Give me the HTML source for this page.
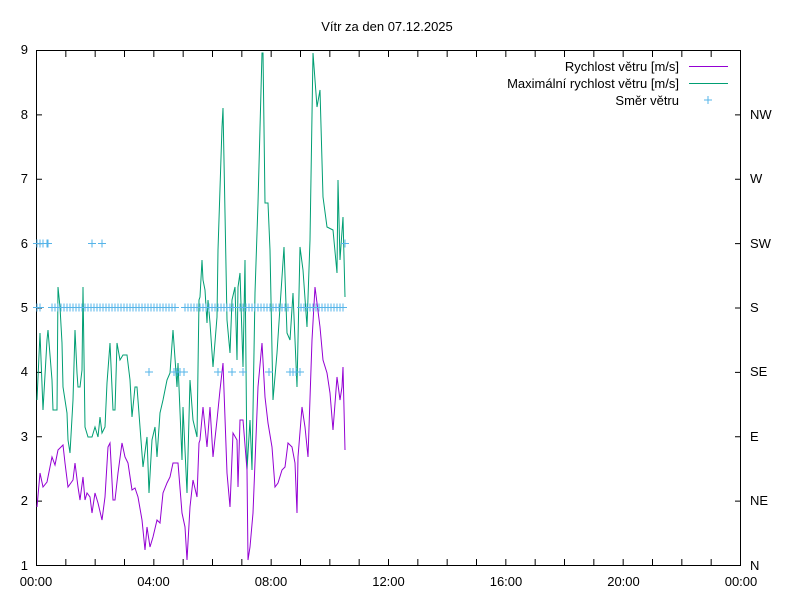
<!DOCTYPE html>
<html><head><meta charset="utf-8"><style>
body{margin:0;background:#fff;overflow:hidden}
svg{display:block;font-family:"Liberation Sans",sans-serif;font-size:13px}
</style></head><body>
<svg id="s" width="800" height="600" viewBox="0 0 800 600">
<rect width="800" height="600" fill="#fff"/>
<text x="387" y="31" text-anchor="middle">Vítr za den 07.12.2025</text>
<g id="ticks" stroke="#000" stroke-width="1"></g>
<rect x="36.5" y="50.5" width="704" height="515" fill="none" stroke="#000"/>
<g text-anchor="end">
<text x="28" y="570">1</text><text x="28" y="505">2</text><text x="28" y="441">3</text><text x="28" y="376">4</text><text x="28" y="312">5</text><text x="28" y="248">6</text><text x="28" y="183">7</text><text x="28" y="119">8</text><text x="28" y="54">9</text>
</g>
<g>
<text x="750" y="570">N</text><text x="750" y="505">NE</text><text x="750" y="441">E</text><text x="750" y="376">SE</text><text x="750" y="312">S</text><text x="750" y="248">SW</text><text x="750" y="183">W</text><text x="750" y="119">NW</text>
</g>
<g text-anchor="middle">
<text x="36" y="586">00:00</text><text x="153.5" y="586">04:00</text><text x="271" y="586">08:00</text><text x="388.5" y="586">12:00</text><text x="506" y="586">16:00</text><text x="623.5" y="586">20:00</text><text x="741" y="586">00:00</text>
</g>
<g text-anchor="end">
<text x="679" y="71">Rychlost větru [m/s]</text>
<text x="679" y="88">Maximální rychlost větru [m/s]</text>
<text x="679" y="105">Směr větru</text>
</g>
<line x1="689" y1="66.5" x2="728" y2="66.5" stroke="#9400d3"/>
<line x1="689" y1="83.5" x2="728" y2="83.5" stroke="#009e73"/>
<polyline fill="none" stroke="#009e73" stroke-width="1" points="37,400 40,333 43,410 47,340 48,330 52,380 53,410 57,410 58,287 60,307 62,343 63,387 67,413 68,440 70,453 73,400 75,330 77,373 78,387 80,387 82,370 83,287 85,427 88,437 92,437 95,427 98,437 100,417 102,433 105,427 107,383 110,343 113,410 115,410 117,343 120,360 123,355 127,355 130,380 132,417 135,387 137,387 140,427 143,467 147,437 149,493 152,440 155,427 157,457 160,413 163,400 167,380 170,373 173,330 177,387 178,363 182,460 183,407 187,493 190,380 193,420 197,437 199,300 200,297 202,260 203,280 205,290 207,323 208,300 210,323 213,367 217,317 218,250 222,127 223,108 225,213 227,320 230,353 232,300 235,287 237,360 238,287 240,273 243,367 245,260 247,470 250,420 252,470 255,293 258,203 262,53 263,53 265,203 268,203 270,250 273,400 277,353 280,307 284,247 287,333 290,340 293,293 297,387 300,247 303,270 307,327 310,240 313,53 317,107 320,90 323,197 327,227 333,230 337,273 338,180 340,260 343,217 345,297"/>
<polyline fill="none" stroke="#9400d3" stroke-width="1" points="37,507 40,473 43,487 47,482 52,457 55,465 58,450 63,445 65,463 68,487 73,480 75,463 78,487 80,500 83,477 85,500 87,493 90,497 92,513 95,493 98,503 102,520 105,497 108,447 110,443 113,500 115,500 118,473 122,443 125,457 128,463 132,490 135,488 138,497 142,520 145,550 147,527 150,547 153,537 157,520 160,523 163,493 167,483 170,477 173,463 178,463 182,513 185,527 187,560 190,507 193,480 197,497 199,443 200,440 203,407 207,447 210,407 213,457 217,420 220,390 223,363 227,473 230,507 233,433 237,440 238,487 240,420 243,420 247,470 248,560 250,547 253,513 258,387 262,343 265,397 268,423 272,447 275,487 278,483 282,470 285,467 288,443 292,447 295,463 297,513 298,457 302,407 305,427 308,457 312,340 315,287 317,303 320,327 323,360 327,373 330,393 333,430 337,377 340,400 342,387 343,367 345,450"/>
<g id="pl" stroke="#56b4e9" stroke-width="1"></g>
</svg>
<script>
var ns="http://www.w3.org/2000/svg";
function ln(g,x1,y1,x2,y2){var l=document.createElementNS(ns,"line");l.setAttribute("x1",x1);l.setAttribute("y1",y1);l.setAttribute("x2",x2);l.setAttribute("y2",y2);g.appendChild(l);}
var t=document.getElementById("ticks");
for(var i=0;i<=24;i++){var x=36.5+i*704/24;ln(t,x,565,x,559);ln(t,x,51,x,57);}
for(var v=1;v<=9;v++){var y=565.5-(v-1)*64.375;ln(t,36,y,42,y);ln(t,741,y,735,y);}
var p=document.getElementById("pl");
function plus(x,y){ln(p,x-4,y,x+4,y);ln(p,x,y-4,x,y+4);}
var sw=[37,40,43,47,48,92,102,345],se=[149,174,177,180,184,218,232,243,269,290,293,296,300],s=[37,40];
for(var x=52;x<=175;x+=3)s.push(x);
for(var x=185;x<=234;x+=3)s.push(x);
for(var x=240;x<=290;x+=3)s.push(x);
for(var x=301;x<=345;x+=3)s.push(x);
sw.forEach(function(x){plus(x,243.5)});s.forEach(function(x){plus(x,307.5)});se.forEach(function(x){plus(x,372)});
plus(708,100);
</script>
</body></html>
